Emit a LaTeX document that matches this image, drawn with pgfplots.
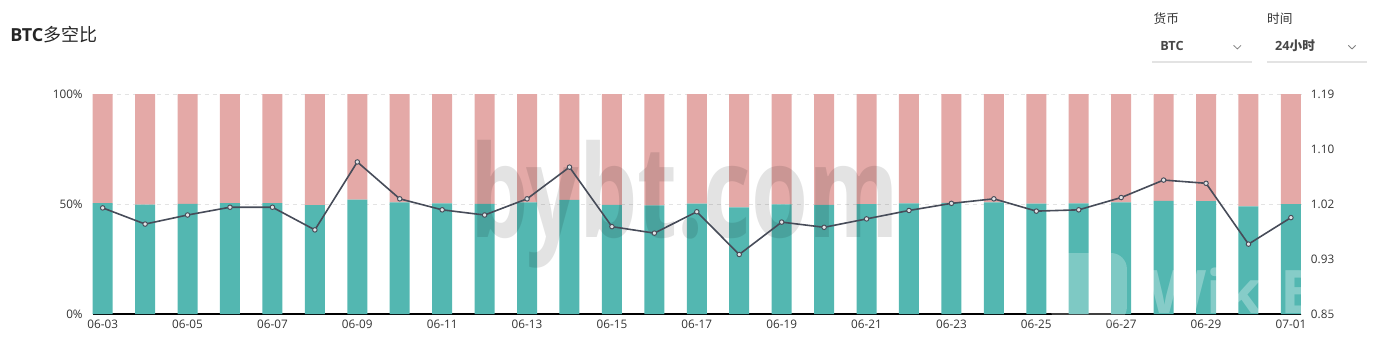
\documentclass[border=0pt]{standalone}
\usepackage{pgfplots}
\pgfplotsset{compat=1.18}
\usepackage{pgfplotstable}
\usepackage{fontspec}
\setmainfont{Open Sans}
\newfontfamily\cjk{Noto Sans CJK SC}
\definecolor{tealbar}{HTML}{53B7B1}
\definecolor{pinkbar}{HTML}{E4A9A7}
\definecolor{linecol}{HTML}{474C59}
\definecolor{gridcol}{HTML}{E3E3E3}
\definecolor{txt}{HTML}{333333}
\pgfplotstableread{
x long short ratio
0 50.35 49.65 1.014
1 49.72 50.28 0.989
2 50.07 49.93 1.003
3 50.37 49.63 1.015
4 50.37 49.63 1.015
5 49.49 50.51 0.980
6 52.04 47.96 1.085
7 50.69 49.31 1.028
8 50.27 49.73 1.011
9 50.07 49.93 1.003
10 50.69 49.31 1.028
11 51.85 48.15 1.077
12 49.62 50.38 0.985
13 49.37 50.63 0.975
14 50.20 49.80 1.008
15 48.51 51.49 0.942
16 49.80 50.20 0.992
17 49.60 50.40 0.984
18 49.92 50.08 0.997
19 50.25 49.75 1.010
20 50.52 49.48 1.021
21 50.69 49.31 1.028
22 50.22 49.78 1.009
23 50.27 49.73 1.011
24 50.74 49.26 1.030
25 51.39 48.61 1.057
26 51.27 48.73 1.052
27 48.93 51.07 0.958
28 49.97 50.03 0.999
}\datatable
\begin{document}
\begin{tikzpicture}
\useasboundingbox (-69.5pt,-30.75pt) rectangle (967pt,235.5pt);
\begin{axis}[
  at={(0,0)}, anchor=south west, scale only axis,
  width=906.2pt, height=165pt,
  xmin=-0.236, xmax=28.236, ymin=0, ymax=100,
  ybar stacked, bar width=15pt,
  axis x line*=bottom, axis y line*=left,
  y axis line style={draw=none},
  x axis line style={draw=black, line width=0.9pt, -},
  major tick length=0pt,
  xtick={0,2,...,28},
  xticklabels={06-03,06-05,06-07,06-09,06-11,06-13,06-15,06-17,06-19,06-21,06-23,06-25,06-27,06-29,07-01},
  ytick={0,50,100},
  yticklabels={0\%,50\%,100\%},
  ymajorgrids, grid style={gridcol, dashed, line width=0.6pt},
  tick label style={font=\fontsize{8.8}{10}\selectfont, text=txt},
  yticklabel style={xshift=-4pt},
  xticklabel style={yshift=-1pt},
]
\addplot[fill=tealbar, draw=none] table[x=x, y=long] {\datatable};
\addplot[fill=pinkbar, draw=none] table[x=x, y=short] {\datatable};
\end{axis}
% watermark
\node[anchor=base, text=black, opacity=0.11, xscale=0.72, font=\fontsize{96}{96}\selectfont\bfseries] at (444pt,57.75pt) {bybt.com};
\begin{axis}[
  at={(0,0)}, anchor=south west, scale only axis,
  width=906.2pt, height=165pt,
  xmin=-0.236, xmax=28.236, ymin=0.85, ymax=1.19,
  axis x line=none, axis y line*=right,
  y axis line style={draw=none},
  major tick length=0pt,
  ytick={0.85,0.935,1.02,1.105,1.19},
  yticklabels={0.85,0.93,1.02,1.10,1.19},
  tick label style={font=\fontsize{8.8}{10}\selectfont, text=txt},
  yticklabel style={xshift=4pt},
]
\addplot[color=linecol, line width=1.2pt, mark=*, mark size=1.7pt,
  mark options={fill=white!85!linecol, draw=linecol, line width=0.7pt}] table[x=x, y=ratio] {\datatable};
\end{axis}
% WikiBit watermark
\fill[white, opacity=0.25, rounded corners=12pt] (718pt,-6.75pt) rectangle (775.7pt,45.75pt);
\node[anchor=base west, text=white, opacity=0.3, font=\fontsize{45}{45}\selectfont\bfseries, inner sep=0pt] at (791.5pt,0.5pt) {WikiBit};
% title
\node[anchor=west, inner sep=0pt, text=black!85, font=\fontsize{13.5}{14}\selectfont] at (-62pt,209.25pt) {\textbf{BTC}{\cjk 多空比}};
% controls
\node[anchor=west, inner sep=0pt, text=txt, font=\fontsize{9.5}{10}\selectfont\cjk] at (795.5pt,221.25pt) {货币};
\node[anchor=west, inner sep=0pt, text=txt!90, font=\fontsize{9.5}{10}\selectfont\bfseries] at (800.5pt,201pt) {BTC};
\draw[gray, line width=0.6pt] (855.7pt,201.5pt) -- (858.5pt,198.8pt) -- (861.3pt,201.5pt);
\draw[gridcol, line width=0.8pt] (794.5pt,189pt) -- (869.5pt,189pt);
\node[anchor=west, inner sep=0pt, text=txt, font=\fontsize{9.5}{10}\selectfont\cjk] at (880.7pt,221.25pt) {时间};
\node[anchor=west, inner sep=0pt, text=txt!90, font=\fontsize{9.5}{10}\selectfont\bfseries] at (886.7pt,201pt) {24{\cjk 小时}};
\draw[gray, line width=0.6pt] (941.7pt,201.5pt) -- (944.5pt,198.8pt) -- (947.3pt,201.5pt);
\draw[gridcol, line width=0.8pt] (880.7pt,189pt) -- (955.7pt,189pt);
\end{tikzpicture}
\end{document}
